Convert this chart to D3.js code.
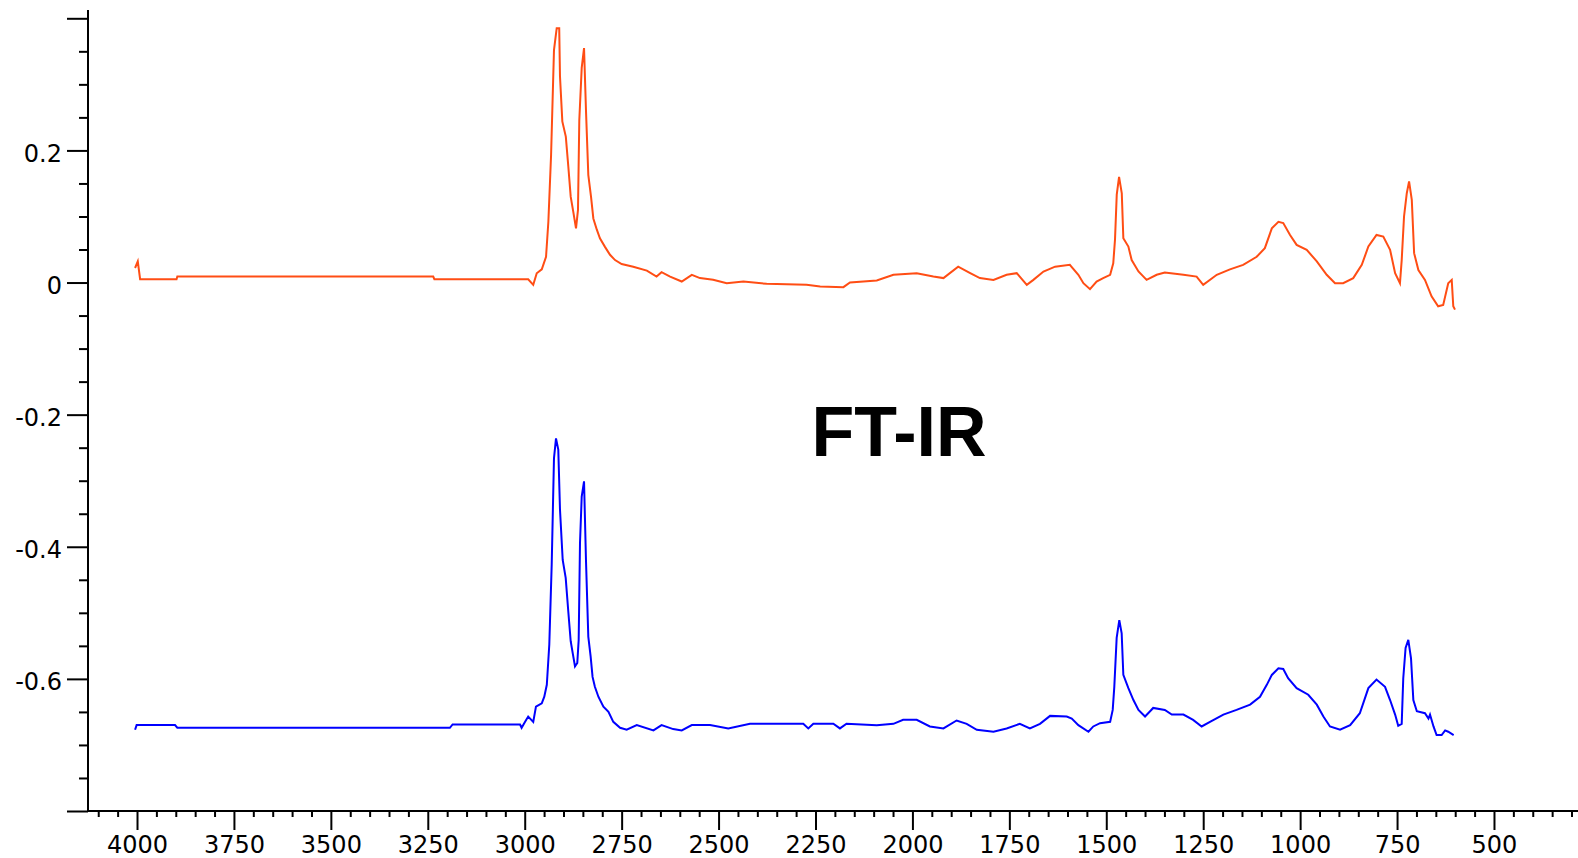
<!DOCTYPE html>
<html>
<head>
<meta charset="utf-8">
<script src="https://cdn.jsdelivr.net/npm/d3@7"></script>
<style>
  body { margin: 0; background: #fff; }
  svg { display: block; }
  .tick text { font-family: "DejaVu Sans", sans-serif; font-size: 24px; fill: #000; }
  .axis line, .axis path { stroke: #000; stroke-width: 2; }
  .title { font-family: "Liberation Sans", Arial, sans-serif; font-weight: bold; font-size: 70px; fill: #000; }
</style>
</head>
<body>
<div id="chart"></div>
<script>
// [wavenumber cm-1, absorbance]
var redSpectrum = [
  [4005,0.022],[3998,0.032],[3992,0.005],[3898,0.005],[3896,0.009],[3236,0.009],[3233,0.005],[2991,0.005],
  [2978,-0.0035],[2969,0.014],[2956,0.020],[2945,0.039],[2939,0.092],[2932,0.193],[2924.5,0.352],[2917.5,0.385],
  [2911,0.385],[2909,0.312],[2903,0.244],[2894,0.221],[2887.6,0.176],[2881.4,0.130],[2874.7,0.107],[2867.7,0.082],
  [2862.6,0.110],[2859.2,0.246],[2853,0.325],[2847,0.355],[2842,0.261],[2836,0.163],[2829,0.130],[2823,0.097],
  [2814,0.080],[2806,0.067],[2793,0.054],[2780,0.042],[2767,0.034],[2750,0.028],[2720,0.024],[2685,0.018],
  [2660,0.009],[2647,0.0157],[2625,0.009],[2595,0.0015],[2569,0.0117],[2548,0.0067],[2514,0.0041],[2479,-0.0009],
  [2436,0.0015],[2376,-0.002],[2273,-0.0035],[2238,-0.006],[2178,-0.007],[2161,0],[2092,0.003],[2049,0.0117],
  [1989,0.0142],[1946,0.009],[1920,0.0067],[1882,0.024],[1851,0.0142],[1826,0.0067],[1791,0.004],[1757,0.0117],
  [1731,0.0142],[1705,-0.0035],[1688,0.004],[1662,0.0167],[1632,0.024],[1594,0.0268],[1572,0.0117],[1559,-0.001],
  [1542,-0.010],[1525,0.0015],[1508,0.0067],[1490,0.0117],[1482,0.029],[1477.5,0.065],[1473,0.133],[1467,0.160],
  [1460,0.135],[1456,0.067],[1443,0.0545],[1434.5,0.034],[1417,0.0167],[1396,0.004],[1370,0.0117],[1349,0.015],
  [1301,0.0117],[1267,0.009],[1250,-0.0035],[1215,0.0117],[1181,0.020],[1147,0.0268],[1112,0.039],[1091,0.052],
  [1073,0.082],[1056,0.092],[1043.5,0.090],[1026,0.072],[1009,0.057],[983,0.0495],[957,0.032],[931.5,0.0117],
  [910,-0.001],[889,-0.001],[863,0.0067],[841,0.0268],[824,0.0545],[803,0.072],[785.5,0.0696],[768,0.0495],
  [755,0.0142],[742.5,-0.001],[738,0.034],[732,0.100],[725,0.135],[719,0.153],[712,0.125],[706,0.0445],
  [695,0.019],[678,0.004],[661,-0.021],[644,-0.036],[631,-0.034],[618,-0.001],[609,0.004],[605,-0.036],[600.6,-0.041]
];

var blueSpectrum = [
  [4005,-0.677],[4001,-0.670],[3902,-0.670],[3896,-0.674],[3193,-0.674],[3186,-0.669],[3012,-0.669],[3008,-0.674],
  [2999,-0.665],[2991,-0.657],[2978,-0.665],[2971,-0.642],[2956,-0.637],[2949.5,-0.627],[2943,-0.609],[2936.6,-0.548],
  [2930.4,-0.427],[2924.5,-0.266],[2919.3,-0.236],[2913.4,-0.253],[2909,-0.344],[2902,-0.420],[2894.3,-0.447],[2887.6,-0.498],
  [2881.4,-0.543],[2876.2,-0.561],[2870.3,-0.581],[2864.4,-0.576],[2860.8,-0.541],[2857.4,-0.394],[2853,-0.324],[2847,-0.301],
  [2842,-0.420],[2836,-0.536],[2830,-0.566],[2825,-0.597],[2819,-0.612],[2810,-0.627],[2797,-0.642],[2784,-0.650],
  [2771.5,-0.665],[2754,-0.674],[2737,-0.677],[2711,-0.670],[2668,-0.678],[2647,-0.670],[2617,-0.676],[2595,-0.678],
  [2569,-0.670],[2522,-0.670],[2475,-0.675],[2419,-0.668],[2281.5,-0.668],[2268.6,-0.675],[2255.6,-0.668],[2204,-0.668],
  [2187,-0.675],[2170,-0.668],[2092,-0.670],[2049,-0.668],[2024,-0.662],[1989,-0.662],[1955,-0.672],[1920,-0.675],
  [1886,-0.663],[1860,-0.668],[1834,-0.677],[1791,-0.680],[1757,-0.675],[1723,-0.668],[1697,-0.675],[1671,-0.668],
  [1645,-0.656],[1602,-0.657],[1589,-0.660],[1572,-0.670],[1546,-0.680],[1533.5,-0.672],[1516,-0.667],[1490,-0.665],
  [1483.4,-0.647],[1479.3,-0.612],[1473.2,-0.538],[1466.4,-0.511],[1460.3,-0.531],[1456,-0.594],[1443,-0.614],[1430,-0.632],
  [1417,-0.647],[1400,-0.657],[1387,-0.649],[1379,-0.644],[1349,-0.647],[1331,-0.654],[1301,-0.654],[1276,-0.662],
  [1254,-0.672],[1232.5,-0.665],[1198,-0.654],[1164,-0.647],[1129,-0.639],[1103.5,-0.627],[1086,-0.609],[1073,-0.594],
  [1056,-0.584],[1043.5,-0.585],[1031,-0.599],[1009,-0.614],[979,-0.624],[957,-0.639],[940,-0.657],[923,-0.672],
  [897,-0.677],[871,-0.670],[846,-0.652],[824,-0.614],[803,-0.601],[781,-0.612],[768,-0.632],[755,-0.654],
  [747,-0.671],[738,-0.668],[734,-0.599],[728,-0.553],[721,-0.541],[714,-0.569],[708,-0.632],[699,-0.649],
  [678,-0.652],[669,-0.660],[665,-0.654],[656,-0.672],[648,-0.685],[635,-0.685],[626,-0.678],[618,-0.680],[604,-0.685]
];

var xMajorTicks = [4000, 3750, 3500, 3250, 3000, 2750, 2500, 2250, 2000, 1750, 1500, 1250, 1000, 750, 500];
var yMajorTicks = [0.4, 0.2, 0, -0.2, -0.4, -0.6, -0.8];
var yLabelled = [0.2, 0, -0.2, -0.4, -0.6];
var titleText = "FT-IR";

var width = 1578, height = 858;

var svg = d3.select("#chart").append("svg")
    .attr("width", width)
    .attr("height", height);

var xScale = d3.scaleLinear().domain([4126.4, 283.3]).range([88, 1578]);
var yScale = d3.scaleLinear().domain([-0.8, 0.4]).range([811, 18.3]);

// minor ticks every 50 cm-1 and every 0.05
var xMinorTicks = d3.range(4100, 280, -50).filter(v => xMajorTicks.indexOf(v) < 0);
var yMinorTicks = d3.range(-16, 8).map(i => i * 0.05).filter(v => Math.abs(Math.round(v * 20) % 4) != 0);

var yFormat = function (d) {
  if (yLabelled.indexOf(d) < 0) return "";
  return d === 0 ? "0" : d.toFixed(1);
};

// y axis
var yMinorG = svg.append("g").attr("class", "axis").attr("transform", "translate(88,0)")
    .call(d3.axisLeft(yScale).tickValues(yMinorTicks).tickSize(9).tickFormat(""));
var yMajorG = svg.append("g").attr("class", "axis").attr("transform", "translate(88,0)")
    .call(d3.axisLeft(yScale).tickValues(yMajorTicks).tickSize(21).tickPadding(5).tickFormat(yFormat));
yMajorG.selectAll("text").attr("dy", "0.45em");

// x axis
var xMinorG = svg.append("g").attr("class", "axis").attr("transform", "translate(0,811)")
    .call(d3.axisBottom(xScale).tickValues(xMinorTicks).tickSize(6).tickFormat(""));
var xMajorG = svg.append("g").attr("class", "axis").attr("transform", "translate(0,811)")
    .call(d3.axisBottom(xScale).tickValues(xMajorTicks).tickSize(19).tickPadding(6).tickFormat(d3.format("d")));

svg.selectAll(".domain").remove();

svg.append("line")
    .attr("x1", 88).attr("x2", 88)
    .attr("y1", 10).attr("y2", 812)
    .attr("stroke", "#000").attr("stroke-width", 2);
svg.append("line")
    .attr("x1", 87).attr("x2", width)
    .attr("y1", 811).attr("y2", 811)
    .attr("stroke", "#000").attr("stroke-width", 2);

var line = d3.line()
    .x(d => xScale(d[0]))
    .y(d => yScale(d[1]));

svg.append("path")
    .datum(redSpectrum)
    .attr("fill", "none")
    .attr("stroke", "#ff4d14")
    .attr("stroke-width", 2)
    .attr("d", line);

svg.append("path")
    .datum(blueSpectrum)
    .attr("fill", "none")
    .attr("stroke", "#0000ff")
    .attr("stroke-width", 2)
    .attr("d", line);

svg.append("text")
    .attr("class", "title")
    .attr("x", 899)
    .attr("y", 456)
    .attr("text-anchor", "middle")
    .text(titleText);
</script>
</body>
</html>
